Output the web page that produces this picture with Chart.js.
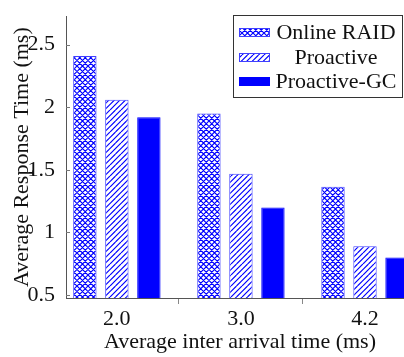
<!DOCTYPE html>
<html>
<head>
<meta charset="utf-8">
<script src="https://cdn.jsdelivr.net/npm/chart.js@4.4.1/dist/chart.umd.min.js"></script>
<style>
  html, body { margin: 0; padding: 0; background: #fff; width: 404px; height: 357px; overflow: hidden; }
  canvas { display: block; }
</style>
</head>
<body>
<canvas id="chart" width="414" height="357"></canvas>
<script>
// Average response time (ms) per average inter-arrival time (ms)
const categories = ['2.0', '3.0', '4.2'];
const seriesNames = ['Online RAID', 'Proactive', 'Proactive-GC'];
const onlineRaid = [2.41, 1.95, 1.365];
const proactive = [2.06, 1.47, 0.89];
const proactiveGC = [1.92, 1.20, 0.80];
const yTicks = [0.5, 1, 1.5, 2, 2.5];

const BLUE = '#0000ff';
const FONT = "'Liberation Serif', 'Times New Roman', serif";
const FSIZE = 22;

// Fill patterns: cross-hatch and north-east diagonal lines
function makePattern(kind) {
  const s = 5.5;
  const n = 11;
  const c = document.createElement('canvas');
  c.width = n; c.height = n;
  const g = c.getContext('2d');
  g.fillStyle = '#fff';
  g.fillRect(0, 0, n, n);
  g.strokeStyle = BLUE;
  g.lineWidth = 1.2;
  g.beginPath();
  for (let k = -2; k <= 2; k++) {
    g.moveTo(k * s, n); g.lineTo(k * s + n, 0);
    if (kind === 'cross') { g.moveTo(k * s, 0); g.lineTo(k * s + n, n); }
  }
  g.stroke();
  return g.createPattern(c, 'repeat');
}
const crossFill = makePattern('cross');
const lineFill = makePattern('lines');

function points(values) {
  return values.map((v, i) => ({ x: i, y: v }));
}

// Boxed legend drawn inside the plot, top right
const boxLegend = {
  id: 'boxLegend',
  afterDraw(chart) {
    const ctx = chart.ctx;
    const left = 233, top = 15, right = 402, bottom = 97;
    const rows = [32.5, 57.5, 81.5];
    ctx.save();
    ctx.fillStyle = '#fff';
    ctx.fillRect(left, top, right - left, bottom - top);
    ctx.strokeStyle = '#333';
    ctx.lineWidth = 1;
    ctx.strokeRect(left + 0.5, top + 0.5, right - left, bottom - top);
    chart.data.datasets.forEach((ds, i) => {
      const cy = rows[i];
      ctx.fillStyle = ds.backgroundColor;
      ctx.fillRect(239, cy - 4.5, 31, 9);
      ctx.strokeStyle = ds.borderColor;
      ctx.strokeRect(239.5, cy - 4, 30, 8);
      ctx.fillStyle = '#111';
      ctx.font = FSIZE + 'px ' + FONT;
      ctx.textAlign = 'center';
      ctx.textBaseline = 'middle';
      ctx.fillText(ds.label, 336, cy + 1);
    });
    ctx.restore();
  }
};

// Short inward tick marks on the value axis
const innerTicks = {
  id: 'innerTicks',
  afterDatasetsDraw(chart) {
    const ctx = chart.ctx;
    const ys = chart.scales.y;
    const x0 = chart.chartArea.left;
    ctx.save();
    ctx.strokeStyle = '#777';
    ctx.lineWidth = 1;
    ctx.beginPath();
    yTicks.forEach(v => {
      const py = Math.round(ys.getPixelForValue(v)) + 0.5;
      ctx.moveTo(x0, py); ctx.lineTo(x0 + 4, py);
    });
    ctx.stroke();
    ctx.restore();
  }
};

const seriesValues = [onlineRaid, proactive, proactiveGC];
const fills = [crossFill, lineFill, BLUE];

new Chart(document.getElementById('chart'), {
  type: 'bar',
  data: {
    datasets: seriesNames.map((name, i) => ({
      label: name,
      data: points(seriesValues[i]),
      backgroundColor: fills[i],
      borderColor: i === 2 ? BLUE : '#4040ff',
      borderWidth: 1,
      categoryPercentage: 0.774,
      barPercentage: 0.73
    }))
  },
  options: {
    responsive: false,
    animation: false,
    layout: { padding: { top: 10, right: 0, left: 0, bottom: 0 } },
    plugins: { legend: { display: false }, tooltip: { enabled: false } },
    scales: {
      x: {
        type: 'linear',
        offset: false,
        min: -0.41,
        max: 2.395,
        afterBuildTicks(scale) { scale.ticks = categories.map((c, i) => ({ value: i })); },
        afterFit(scale) { scale.height = 59; },
        grid: { drawOnChartArea: false, drawTicks: true, tickLength: 6, color: '#888' },
        border: { display: true, color: '#555', width: 1 },
        ticks: {
          padding: 2,
          color: '#111',
          font: { family: FONT, size: FSIZE },
          callback: (v) => categories[v]
        },
        title: {
          display: true,
          text: 'Average inter arrival time (ms)',
          color: '#111',
          font: { family: FONT, size: FSIZE },
          padding: { top: 0, bottom: 2 }
        }
      },
      y: {
        min: 0.477,
        max: 2.727,
        afterBuildTicks(scale) { scale.ticks = yTicks.map(v => ({ value: v })); },
        afterFit(scale) { scale.width = 66; },
        grid: { display: false },
        border: { display: true, color: '#555', width: 1 },
        ticks: {
          padding: 3,
          color: '#111',
          font: { family: FONT, size: FSIZE },
          callback: (v) => String(v)
        },
        title: {
          display: true,
          text: 'Average Response Time (ms)',
          color: '#111',
          font: { family: FONT, size: FSIZE },
          padding: { top: 9, bottom: 0 }
        }
      }
    }
  },
  plugins: [innerTicks, boxLegend]
});
</script>
</body>
</html>
